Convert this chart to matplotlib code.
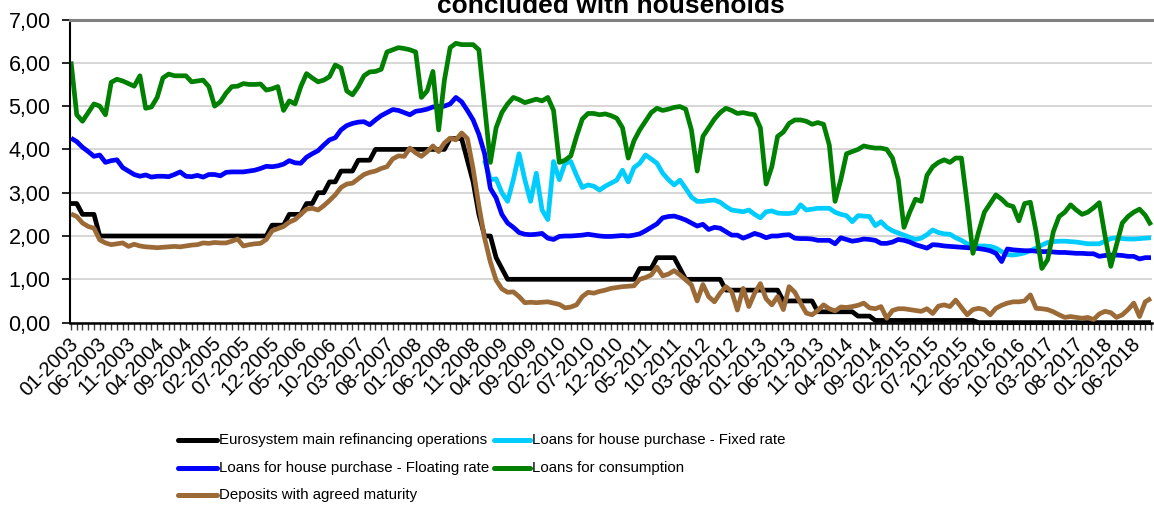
import numpy as np
import matplotlib
matplotlib.use("Agg")
import matplotlib.pyplot as plt
from matplotlib.lines import Line2D
from matplotlib.transforms import ScaledTranslation
from matplotlib import font_manager
import pandas as pd

plt.rcParams['font.family'] = ['Liberation Sans', 'DejaVu Sans']

# ---- categories: monthly, 01-2003 .. 09-2018
months = [d.strftime('%m-%Y') for d in pd.date_range('2003-01-01', '2018-09-01', freq='MS')]

# ---- series values
ecb = ([2.75] * 2 + [2.5] * 3 + [2.0] * 30 + [2.25] * 3 + [2.5] * 3 + [2.75] * 2 + [3.0] * 2 +
       [3.25] * 2 + [3.5] * 3 + [3.75] * 3 + [4.0] * 13 + [4.25] * 3 + [3.75, 3.25, 2.5] +
       [2.0] * 2 + [1.5, 1.25] + [1.0] * 23 + [1.25] * 3 + [1.5] * 4 + [1.25] + [1.0] * 7 +
       [0.75] * 10 + [0.5] * 6 + [0.25] * 7 + [0.15] * 3 + [0.05] * 18 + [0.0] * 31)

fixed = [np.nan] * 72 + [
    3.75, 3.3, 3.32, 3.0, 2.8, 3.3, 3.9, 3.3, 2.8, 3.45, 2.6, 2.38, 3.72, 3.3, 3.68, 3.72, 3.4,
    3.12, 3.18, 3.15, 3.06, 3.15, 3.22, 3.29, 3.52, 3.25, 3.58, 3.68, 3.87, 3.78, 3.68, 3.45,
    3.3, 3.18, 3.29, 3.1, 2.9, 2.8, 2.8, 2.82, 2.83, 2.78, 2.68, 2.6, 2.58, 2.56, 2.6, 2.5,
    2.42, 2.56, 2.58, 2.53, 2.52, 2.52, 2.54, 2.72, 2.6, 2.62, 2.64, 2.64, 2.64, 2.55, 2.5,
    2.47, 2.33, 2.47, 2.46, 2.45, 2.24, 2.33, 2.2, 2.12, 2.07, 2.02, 1.97, 1.92, 1.95, 2.03,
    2.14, 2.08, 2.05, 2.04, 1.96, 1.9, 1.82, 1.78, 1.77, 1.77, 1.76, 1.72, 1.64, 1.57, 1.56,
    1.58, 1.61, 1.66, 1.72, 1.79, 1.85, 1.87, 1.88, 1.88, 1.87, 1.86, 1.84, 1.82, 1.82, 1.82,
    1.88, 1.94, 1.96, 1.94, 1.93, 1.93, 1.94, 1.95, 1.96]

floating = [
    4.26, 4.18, 4.05, 3.95, 3.84, 3.87, 3.7, 3.74, 3.76, 3.58, 3.5, 3.42, 3.38, 3.41, 3.36,
    3.38, 3.38, 3.37, 3.42, 3.48, 3.38, 3.37, 3.4, 3.36, 3.42, 3.42, 3.39, 3.47, 3.48, 3.48,
    3.48, 3.5, 3.52, 3.56, 3.61, 3.6, 3.62, 3.66, 3.74, 3.69, 3.68, 3.82, 3.9, 3.97, 4.1, 4.22,
    4.27, 4.45, 4.55, 4.6, 4.63, 4.64, 4.57, 4.68, 4.78, 4.85, 4.92, 4.9, 4.85, 4.8, 4.88, 4.9,
    4.93, 4.98, 4.99, 5.0, 5.05, 5.2, 5.1, 4.9, 4.68, 4.35, 3.9, 3.1, 2.88, 2.5, 2.3, 2.2, 2.08,
    2.04, 2.03, 2.04, 2.06, 1.95, 1.92, 1.99, 2.0, 2.0, 2.01, 2.02, 2.04, 2.02, 2.0, 1.99, 1.99,
    2.0, 2.01, 2.0, 2.02, 2.05, 2.12, 2.2, 2.28, 2.42, 2.45, 2.46, 2.42, 2.37, 2.3, 2.23, 2.27,
    2.15, 2.2, 2.18, 2.1, 2.02, 2.02, 1.95, 2.0, 2.06, 2.02, 1.96, 2.0, 2.0, 2.02, 2.03, 1.95,
    1.94, 1.94, 1.93, 1.9, 1.9, 1.9, 1.82, 1.96, 1.92, 1.88, 1.9, 1.93, 1.92, 1.9, 1.83, 1.83,
    1.86, 1.92, 1.9, 1.86, 1.8, 1.76, 1.72, 1.8, 1.79, 1.77, 1.76, 1.75, 1.74, 1.73, 1.72,
    1.71, 1.69, 1.66, 1.6, 1.41, 1.7, 1.68, 1.67, 1.66, 1.66, 1.65, 1.64, 1.64, 1.63, 1.62,
    1.62, 1.61, 1.6, 1.6, 1.59, 1.59, 1.53, 1.55, 1.56, 1.56, 1.55, 1.53, 1.53, 1.47, 1.5, 1.5]

consumption = [
    6.03, 4.8, 4.65, 4.85, 5.05, 5.0, 4.8, 5.55, 5.62, 5.58, 5.52, 5.46, 5.7, 4.95, 4.98, 5.2,
    5.65, 5.74, 5.7, 5.7, 5.7, 5.56, 5.58, 5.6, 5.45, 5.0, 5.1, 5.3, 5.45, 5.46, 5.52, 5.5, 5.5,
    5.51, 5.37, 5.4, 5.45, 4.9, 5.12, 5.05, 5.45, 5.75, 5.65, 5.56, 5.6, 5.68, 5.95, 5.88, 5.35,
    5.26, 5.45, 5.7, 5.79, 5.8, 5.85, 6.25, 6.3, 6.35, 6.33, 6.3, 6.25, 5.2, 5.35, 5.8, 4.45,
    5.6, 6.35, 6.45, 6.42, 6.42, 6.42, 6.3, 5.0, 3.7, 4.5, 4.85, 5.05, 5.2, 5.15, 5.08, 5.12,
    5.16, 5.12, 5.2, 4.9, 3.7, 3.75, 3.85, 4.3, 4.7, 4.83, 4.83, 4.8, 4.82, 4.78, 4.72, 4.5,
    3.8, 4.2, 4.45, 4.65, 4.85, 4.95, 4.9, 4.93, 4.97, 4.99, 4.93, 4.45, 3.5, 4.3, 4.5, 4.7,
    4.85, 4.95, 4.9, 4.83, 4.85, 4.82, 4.8, 4.5, 3.2, 3.6, 4.3, 4.4, 4.6, 4.68, 4.68, 4.65,
    4.58, 4.62, 4.58, 4.1, 2.8, 3.3, 3.9, 3.95, 4.0, 4.08, 4.05, 4.03, 4.03, 4.0, 3.8, 3.3,
    2.2, 2.55, 2.85, 2.8, 3.4, 3.6, 3.7, 3.76, 3.7, 3.8, 3.8, 2.75, 1.6, 2.1, 2.55, 2.75,
    2.95, 2.85, 2.72, 2.68, 2.35, 2.75, 2.78, 2.1, 1.25, 1.45, 2.1, 2.45, 2.55, 2.72, 2.6,
    2.5, 2.55, 2.65, 2.77, 2.0, 1.3, 1.8, 2.3, 2.45, 2.55, 2.62, 2.48, 2.25]

deposits = [
    2.51, 2.45, 2.3, 2.22, 2.18, 1.91, 1.84, 1.8, 1.82, 1.84, 1.76, 1.81, 1.77, 1.75, 1.74,
    1.73, 1.74, 1.75, 1.76, 1.75, 1.77, 1.79, 1.8, 1.84, 1.83, 1.85, 1.84, 1.84, 1.88, 1.93,
    1.77, 1.8, 1.82, 1.83, 1.92, 2.12, 2.17, 2.22, 2.32, 2.38, 2.5, 2.62, 2.64, 2.6, 2.7, 2.82,
    2.95, 3.12, 3.2, 3.22, 3.32, 3.42, 3.47, 3.5, 3.56, 3.6, 3.78, 3.85, 3.84, 4.03, 3.92,
    3.84, 3.95, 4.08, 3.95, 4.15, 4.26, 4.22, 4.38, 4.25, 3.55, 2.7, 1.95, 1.4, 0.98, 0.78,
    0.7, 0.71, 0.6, 0.46, 0.47, 0.46, 0.47, 0.48, 0.45, 0.42, 0.34, 0.36, 0.41, 0.6, 0.7,
    0.68, 0.72, 0.75, 0.79, 0.81, 0.83, 0.84, 0.85, 1.0, 1.04, 1.1, 1.28, 1.08, 1.12, 1.2,
    1.1, 0.99, 0.87, 0.5, 0.88, 0.6, 0.48, 0.68, 0.83, 0.72, 0.29, 0.79, 0.37, 0.68, 0.9,
    0.55, 0.41, 0.6, 0.3, 0.83, 0.7, 0.45, 0.22, 0.18, 0.28, 0.41, 0.32, 0.27, 0.36, 0.35,
    0.37, 0.4, 0.45, 0.34, 0.32, 0.37, 0.1, 0.28, 0.32, 0.32, 0.3, 0.28, 0.26, 0.32, 0.21,
    0.38, 0.41, 0.37, 0.52, 0.35, 0.18, 0.3, 0.33, 0.3, 0.18, 0.33, 0.4, 0.45, 0.48, 0.48,
    0.5, 0.64, 0.33, 0.32, 0.3, 0.25, 0.18, 0.12, 0.14, 0.12, 0.1, 0.12, 0.07, 0.2, 0.26,
    0.23, 0.12, 0.18, 0.3, 0.45, 0.14, 0.48, 0.56]

series_names = ["Eurosystem main refinancing operations",
                "Loans for house purchase - Fixed rate",
                "Loans for house purchase - Floating rate",
                "Loans for consumption",
                "Deposits with agreed maturity"]
series_values = [ecb, fixed, floating, consumption, deposits]
series_colors = ["#000000", "#00CCFF", "#0000FF", "#008000", "#9C6A36"]

title_text = "concluded with households"

# ---- figure
W, H = 1154, 507
fig = plt.figure(figsize=(W / 100, H / 100), dpi=100)
ax = fig.add_axes([70 / W, (H - 322.6) / H, 1082 / W, (322.6 - 19.5) / H])

x = np.arange(len(months))
lw = 3.4
for vals, col, name in zip(series_values, series_colors, series_names):
    ax.plot(x, vals, color=col, lw=lw, solid_joinstyle='round', solid_capstyle='butt',
            clip_on=False, label=name)

n = len(months)
ax.set_xlim(-1 / 5.745, (n - 1) + 1 / 5.745)
ax.set_ylim(0, 7)

# y axis
ax.set_yticks(np.arange(0, 8, 1))
ax.set_yticklabels([f"{v:.2f}".replace('.', ',') for v in np.arange(0, 8, 1)], fontsize=15.5)
ax.tick_params(axis='y', length=6, width=1.2, color='black', pad=8, direction='out')
ax.grid(axis='y', color='#D0D0D0', lw=1.2)
ax.set_axisbelow(True)

# x axis
ax.set_xticks(x, minor=True)
ax.set_xticks(x[::5])
ax.set_xticklabels([months[i] for i in x[::5]], rotation=45, ha='right', va='center',
                   rotation_mode='anchor', fontsize=14.5)
ax.tick_params(axis='x', which='both', length=5, width=1.0, color='#404040', pad=8,
               direction='out')
off = ScaledTranslation(4 / 100, 0, fig.dpi_scale_trans)
for lab in ax.get_xticklabels():
    lab.set_transform(lab.get_transform() + off)

ax.spines['right'].set_visible(False)
ax.spines['top'].set_color('#808080')
ax.spines['top'].set_linewidth(2.2)
ax.spines['left'].set_color('black')
ax.spines['left'].set_linewidth(1.5)
ax.spines['bottom'].set_color('black')
ax.spines['bottom'].set_linewidth(1.8)

# title (its first line lies above the figure edge, as in the reference)
fig.text(611 / W, (H - 13) / H, title_text, ha='center', va='baseline',
         fontsize=19, fontweight='bold')

# ---- legend, laid out row-wise like the reference (two columns)
try:
    font_manager.findfont(font_manager.FontProperties(family='Liberation Sans Narrow'),
                          fallback_to_default=False)
    leg_family, leg_size, col2 = ['Liberation Sans Narrow'], 12.5, 482
except Exception:
    leg_family, leg_size, col2 = ['Liberation Sans'], 10.8, 494

col_x = [(178, 217, 219), (col2, col2 + 36, col2 + 38)]   # handle start/end, text start (px)
row_y = [440, 468, 495]
for k, (name, col) in enumerate(zip(series_names, series_colors)):
    r, c = divmod(k, 2)
    hx0, hx1, tx = col_x[c]
    yy = 1 - row_y[r] / H
    fig.add_artist(Line2D([hx0 / W, hx1 / W], [yy, yy], color=col, lw=3.6,
                          solid_capstyle='round', transform=fig.transFigure))
    fig.text(tx / W, yy, name, ha='left', va='center', family=leg_family, fontsize=leg_size)

fig.savefig('out.png', dpi=100)
